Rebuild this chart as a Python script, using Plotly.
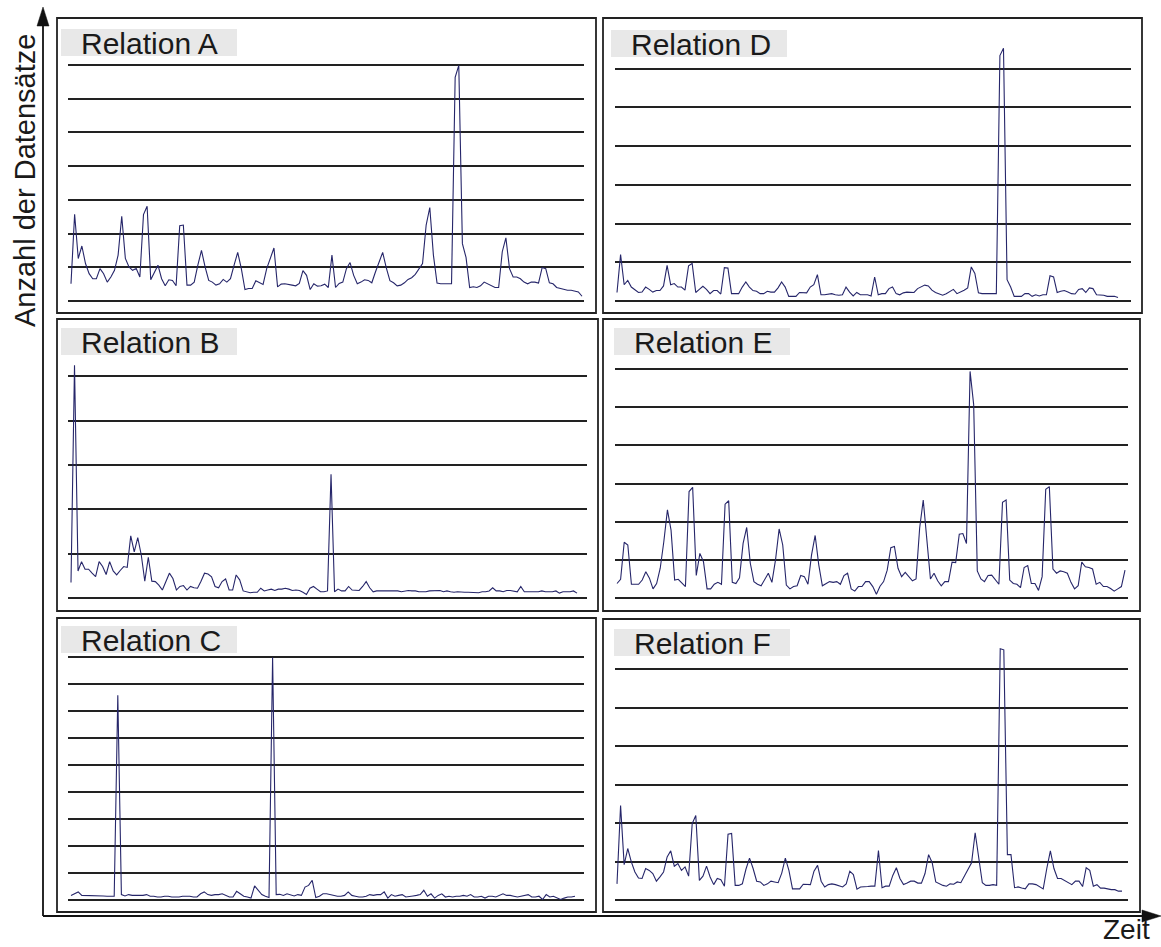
import plotly.graph_objects as go

W, H = 1161, 947

# ---------------- data (counts per time step, grid step = 100) ----------------
labels = ["Relation A", "Relation B", "Relation C", "Relation D", "Relation E", "Relation F"]

rel_a = [51, 257, 126, 163, 111, 81, 66, 66, 96, 81, 56, 71, 91, 136, 251, 126, 101, 91, 96, 71,
         256, 281, 63, 86, 106, 66, 45, 63, 61, 45, 223, 225, 47, 47, 56, 106, 150, 101, 61, 56,
         47, 51, 64, 56, 66, 106, 144, 96, 34, 37, 37, 60, 54, 49, 96, 126, 157, 42, 50, 51,
         50, 47, 45, 52, 90, 76, 34, 51, 44, 45, 50, 40, 136, 40, 52, 56, 96, 114, 76, 51,
         56, 63, 61, 54, 86, 118, 144, 98, 60, 54, 45, 47, 54, 64, 69, 79, 96, 111, 225, 277,
         136, 53, 51, 51, 53, 51, 663, 698, 170, 129, 40, 42, 40, 45, 56, 51, 47, 40, 40, 146,
         187, 96, 71, 71, 66, 56, 51, 56, 56, 53, 99, 96, 54, 51, 40, 37, 34, 32, 32, 30,
         27, 14]

rel_b = [35, 525, 61, 82, 65, 65, 56, 48, 82, 71, 53, 82, 61, 52, 62, 71, 69, 140, 104, 136,
         97, 38, 92, 38, 37, 29, 18, 37, 56, 44, 18, 26, 28, 18, 26, 23, 22, 38, 56, 54,
         48, 26, 23, 37, 43, 18, 18, 52, 41, 16, 14, 12, 13, 13, 22, 16, 18, 20, 17, 20,
         20, 22, 20, 17, 18, 17, 13, 8, 22, 26, 20, 14, 14, 16, 279, 14, 20, 16, 16, 26,
         18, 17, 17, 26, 37, 23, 14, 16, 16, 17, 16, 17, 17, 16, 14, 16, 17, 16, 16, 14,
         14, 14, 16, 16, 16, 17, 14, 16, 14, 13, 14, 13, 13, 13, 13, 13, 12, 14, 14, 16,
         23, 16, 16, 14, 17, 17, 16, 14, 26, 14, 14, 14, 14, 14, 16, 14, 14, 14, 16, 11,
         14, 14, 14, 16, 11]

rel_c = [17, 23, 30, 17, 17, 15, 15, 17, 17, 15, 14, 14, 14, 758, 20, 15, 20, 17, 17, 17,
         17, 20, 14, 14, 11, 11, 14, 14, 11, 11, 11, 14, 14, 14, 11, 11, 23, 30, 20, 17,
         20, 20, 23, 17, 11, 11, 32, 23, 14, 11, 7, 52, 36, 20, 14, 9, 898, 20, 21, 17,
         23, 20, 15, 20, 17, 48, 54, 73, 9, 14, 23, 23, 20, 17, 14, 14, 17, 30, 17, 14,
         11, 11, 14, 20, 17, 20, 20, 30, 7, 20, 14, 17, 20, 11, 14, 15, 17, 20, 36, 14,
         23, 7, 17, 23, 11, 14, 11, 14, 14, 17, 14, 20, 11, 11, 14, 7, 14, 14, 11, 17,
         23, 17, 17, 14, 11, 14, 17, 20, 11, 11, 14, 2, 20, 11, 14, 7, 2, 7, 11, 11, 14]

rel_d = [22, 120, 42, 53, 36, 28, 22, 23, 36, 30, 23, 27, 27, 39, 92, 42, 45, 36, 36, 28,
         91, 97, 22, 30, 38, 30, 19, 27, 27, 18, 86, 85, 19, 19, 19, 36, 49, 36, 27, 25,
         19, 19, 25, 23, 23, 34, 49, 36, 12, 12, 12, 22, 21, 21, 36, 42, 68, 16, 16, 18,
         19, 16, 15, 16, 36, 23, 13, 22, 16, 16, 16, 13, 62, 16, 19, 19, 32, 36, 19, 16,
         21, 23, 23, 22, 32, 36, 41, 39, 28, 22, 18, 15, 19, 25, 30, 19, 23, 28, 34, 88,
         71, 21, 19, 19, 19, 19, 19, 634, 653, 55, 36, 12, 12, 12, 19, 19, 12, 16, 13, 16,
         16, 65, 62, 22, 25, 27, 23, 19, 18, 30, 32, 22, 34, 32, 16, 16, 15, 12, 12, 12, 9]

rel_e = [38, 49, 146, 139, 36, 36, 36, 47, 69, 52, 24, 38, 78, 148, 231, 178, 47, 49, 40, 30,
         279, 290, 59, 117, 95, 24, 24, 36, 41, 36, 246, 255, 41, 38, 53, 143, 185, 91, 43, 36,
         32, 47, 65, 41, 100, 181, 139, 34, 24, 30, 32, 59, 56, 36, 113, 164, 87, 32, 38, 43,
         41, 43, 36, 59, 65, 24, 18, 30, 30, 43, 43, 30, 10, 31, 43, 73, 132, 135, 78, 56,
         67, 56, 45, 50, 183, 257, 148, 50, 65, 45, 32, 43, 43, 94, 93, 167, 169, 143, 594, 507,
         71, 50, 43, 59, 60, 47, 36, 251, 257, 47, 38, 36, 27, 80, 85, 38, 38, 20, 56, 285,
         292, 76, 65, 71, 69, 65, 41, 24, 32, 94, 82, 80, 76, 36, 41, 30, 30, 25, 18, 24,
         30, 73]

rel_f = [42, 246, 92, 134, 99, 73, 57, 56, 82, 77, 69, 49, 60, 73, 112, 128, 88, 95, 77, 86,
         62, 199, 220, 51, 62, 88, 60, 40, 56, 53, 36, 171, 173, 38, 38, 42, 80, 109, 82, 49,
         47, 38, 42, 49, 47, 45, 70, 109, 77, 29, 29, 29, 41, 41, 40, 75, 90, 49, 34, 40,
         42, 40, 36, 34, 42, 75, 66, 28, 34, 34, 35, 36, 36, 129, 32, 36, 36, 64, 84, 56,
         40, 44, 49, 49, 44, 44, 69, 118, 97, 47, 42, 38, 36, 42, 41, 47, 45, 62, 80, 97,
         175, 114, 45, 38, 38, 40, 38, 654, 651, 118, 118, 32, 34, 31, 29, 42, 42, 40, 34, 29,
         82, 128, 82, 56, 56, 51, 44, 40, 49, 49, 35, 84, 77, 36, 40, 31, 31, 29, 27, 27,
         23, 23]

series = [rel_a, rel_b, rel_c, rel_d, rel_e, rel_f]
grid_steps = [8, 6, 10, 7, 7, 7]   # number of horizontal grid intervals per panel

# ---------------- layout geometry (pixels) ----------------
areas = [
    (68, 584, 31, 301),      # A
    (68, 587, 332, 598),     # B
    (68, 584, 630, 900),     # C
    (615, 1131, 30, 301),    # D
    (615, 1128, 331, 598),   # E
    (615, 1128, 631, 900),   # F
]
data_px = [(71, 582), (71, 577), (71, 575), (617, 1118), (617, 1125), (617, 1122)]
boxes = [
    (57, 18, 596, 313), (57, 319, 598, 611), (57, 618, 596, 912),
    (603, 18, 1142, 313), (603, 319, 1140, 611), (603, 619, 1140, 912),
]
label_boxes = [
    (61, 29, 237, 56), (61, 328, 237, 355), (61, 626, 237, 653),
    (611, 30, 787, 57), (614, 328, 790, 355), (614, 629, 790, 656),
]

def px(x):
    return x / W

def py(y):
    return 1 - y / H

LINE_COLOR = "#26266a"
GRID_COLOR = "#222222"
TEXT_COLOR = "#1a1a1a"
FONT = "Liberation Sans, Arial, Helvetica, sans-serif"

fig = go.Figure()
shapes = []
annotations = []

for i, (vals, steps) in enumerate(zip(series, grid_steps)):
    n = len(vals)
    x0, x1, yt, yb = areas[i]
    ds, de = data_px[i]
    scale = (n - 1) / (de - ds)
    r0 = -(ds - x0) * scale
    r1 = (n - 1) + (x1 - de) * scale
    k = "" if i == 0 else str(i + 1)
    fig.add_trace(go.Scatter(
        x=list(range(n)), y=vals, mode="lines",
        line=dict(color=LINE_COLOR, width=1.1),
        xaxis="x" + k, yaxis="y" + k, showlegend=False, hoverinfo="skip",
    ))
    fig.layout["xaxis" + k] = dict(
        domain=[px(x0), px(x1)], range=[r0, r1], anchor="y" + k,
        showgrid=False, zeroline=False, showline=False, showticklabels=False, ticks="",
    )
    fig.layout["yaxis" + k] = dict(
        domain=[py(yb), py(yt)], range=[0, steps * 100], anchor="x" + k,
        dtick=100, tick0=0, showgrid=True, gridcolor=GRID_COLOR, gridwidth=1.5,
        zeroline=True, zerolinecolor=GRID_COLOR, zerolinewidth=1.5,
        showline=False, showticklabels=False, ticks="",
    )
    bx0, by0, bx1, by1 = boxes[i]
    shapes.append(dict(type="rect", xref="paper", yref="paper",
                       x0=px(bx0), y0=py(by1), x1=px(bx1), y1=py(by0),
                       line=dict(color="#222222", width=1.8), fillcolor="rgba(0,0,0,0)",
                       layer="above"))
    lx0, ly0, lx1, ly1 = label_boxes[i]
    shapes.append(dict(type="rect", xref="paper", yref="paper",
                       x0=px(lx0), y0=py(ly1), x1=px(lx1), y1=py(ly0),
                       line=dict(width=0), fillcolor="#e8e8e8", layer="above"))
    annotations.append(dict(text=labels[i], xref="paper", yref="paper",
                            x=px(lx0 + 18), y=py((ly0 + ly1) / 2 + 1),
                            xanchor="left", yanchor="middle", showarrow=False,
                            font=dict(family=FONT, size=30, color=TEXT_COLOR)))

# axes arrows
AX_X, AX_Y = 43, 916
shapes.append(dict(type="line", xref="paper", yref="paper",
                   x0=px(AX_X), y0=py(AX_Y), x1=px(AX_X), y1=py(22),
                   line=dict(color="#111111", width=1.8)))
shapes.append(dict(type="line", xref="paper", yref="paper",
                   x0=px(AX_X), y0=py(AX_Y), x1=px(1148), y1=py(AX_Y),
                   line=dict(color="#111111", width=1.8)))
up = f"M {px(AX_X - 6)},{py(26)} L {px(AX_X)},{py(7)} L {px(AX_X + 6)},{py(26)} Z"
right = f"M {px(1142)},{py(AX_Y - 6)} L {px(1161)},{py(AX_Y)} L {px(1142)},{py(AX_Y + 6)} Z"
shapes.append(dict(type="path", xref="paper", yref="paper", path=up,
                   fillcolor="#111111", line=dict(color="#111111", width=0.5)))
shapes.append(dict(type="path", xref="paper", yref="paper", path=right,
                   fillcolor="#111111", line=dict(color="#111111", width=0.5)))

annotations.append(dict(text="Anzahl der Datensätze", xref="paper", yref="paper",
                        x=px(25), y=py(181), xanchor="center", yanchor="middle",
                        textangle=-90, showarrow=False,
                        font=dict(family=FONT, size=29, color=TEXT_COLOR)))
annotations.append(dict(text="Zeit", xref="paper", yref="paper",
                        x=px(1126), y=py(946), xanchor="center", yanchor="bottom",
                        showarrow=False, borderpad=0,
                        font=dict(family=FONT, size=28, color=TEXT_COLOR)))

fig.update_layout(
    width=W, height=H, margin=dict(l=0, r=0, t=0, b=0),
    paper_bgcolor="white", plot_bgcolor="rgba(0,0,0,0)",
    shapes=shapes, annotations=annotations, showlegend=False,
)

fig.write_html(
    "out.html",
    config={"displayModeBar": False},
    post_script="document.body.style.margin='0';document.body.style.padding='0';"
                "document.body.style.overflow='hidden';",
)
